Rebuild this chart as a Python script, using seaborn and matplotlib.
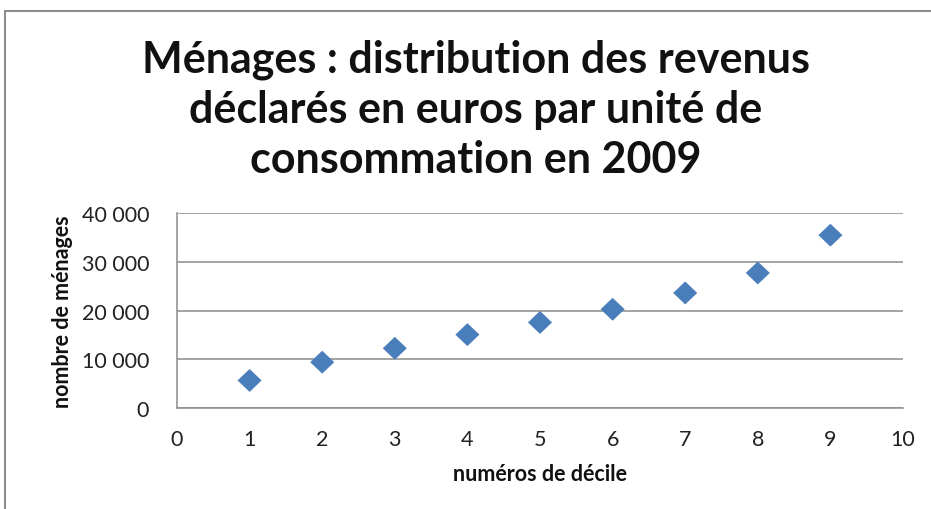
import matplotlib
matplotlib.use("Agg")
import matplotlib.pyplot as plt
import seaborn as sns
import pandas as pd
from matplotlib.path import Path
from matplotlib.patches import Rectangle

# Data
deciles = [1, 2, 3, 4, 5, 6, 7, 8, 9]
revenus = [5650, 9400, 12250, 15050, 17550, 20250, 23600, 27700, 35450]
xticks = [0, 1, 2, 3, 4, 5, 6, 7, 8, 9, 10]
xtick_labels = ["0", "1", "2", "3", "4", "5", "6", "7", "8", "9", "10"]
yticks = [0, 10000, 20000, 30000, 40000]
ytick_labels = ["0", "10 000", "20 000", "30 000", "40 000"]
title_lines = ["Ménages : distribution des revenus",
               "déclarés en euros par unité de",
               "consommation en 2009"]
xlabel = "numéros de décile"
ylabel = "nombre de ménages"

sns.set_theme(style="white")
plt.rcParams['font.family'] = ['Lato', 'DejaVu Sans']

df = pd.DataFrame({"decile": deciles, "revenu": revenus})

W, H = 931, 510
fig = plt.figure(figsize=(W / 100, H / 100), dpi=100)
fig.patch.set_facecolor("white")

# outer chart border
fig.patches.append(Rectangle((5 / W, -0.1), 1.2, (H - 12) / H + 0.1,
                             transform=fig.transFigure, fill=False,
                             edgecolor="#8c8c8c", linewidth=1.5))

ax = fig.add_axes([177 / W, (H - 409) / H, 726 / W, 195 / H])

diamond = Path([(0, 1), (1.05, 0), (0, -1), (-1.05, 0), (0, 1)],
               [Path.MOVETO, Path.LINETO, Path.LINETO, Path.LINETO, Path.CLOSEPOLY])

sns.scatterplot(data=df, x="decile", y="revenu", ax=ax, marker=diamond,
                s=300, color="#4a7ebb", edgecolor="none", linewidth=0, zorder=3)

ax.set_xlim(0, 10)
ax.set_ylim(0, 40000)
ax.set_xticks(xticks)
ax.set_xticklabels(xtick_labels)
ax.set_yticks(yticks)
ax.set_yticklabels(ytick_labels)
ax.tick_params(axis="both", length=0, labelsize=15.5, colors="#222222")
ax.tick_params(axis="x", pad=15)
ax.tick_params(axis="y", pad=20)

ax.yaxis.grid(True, color="#8c8c8c", linewidth=1.1)
ax.xaxis.grid(False)
for side in ["top", "right"]:
    ax.spines[side].set_visible(False)
for side in ["left", "bottom"]:
    ax.spines[side].set_color("#8c8c8c")
    ax.spines[side].set_linewidth(1.1)

ax.set_xlabel(xlabel, fontsize=15.5, fontweight="bold", labelpad=10, color="#111111")
ax.set_ylabel(ylabel, fontsize=15.5, fontweight="bold", labelpad=6, color="#111111")

for i, line in enumerate(title_lines):
    fig.text(476 / W, 1 - (60 + 50 * i) / H, line, ha="center", va="center",
             fontsize=31, fontweight="bold", color="#111111")

fig.savefig("out.png", dpi=100)
